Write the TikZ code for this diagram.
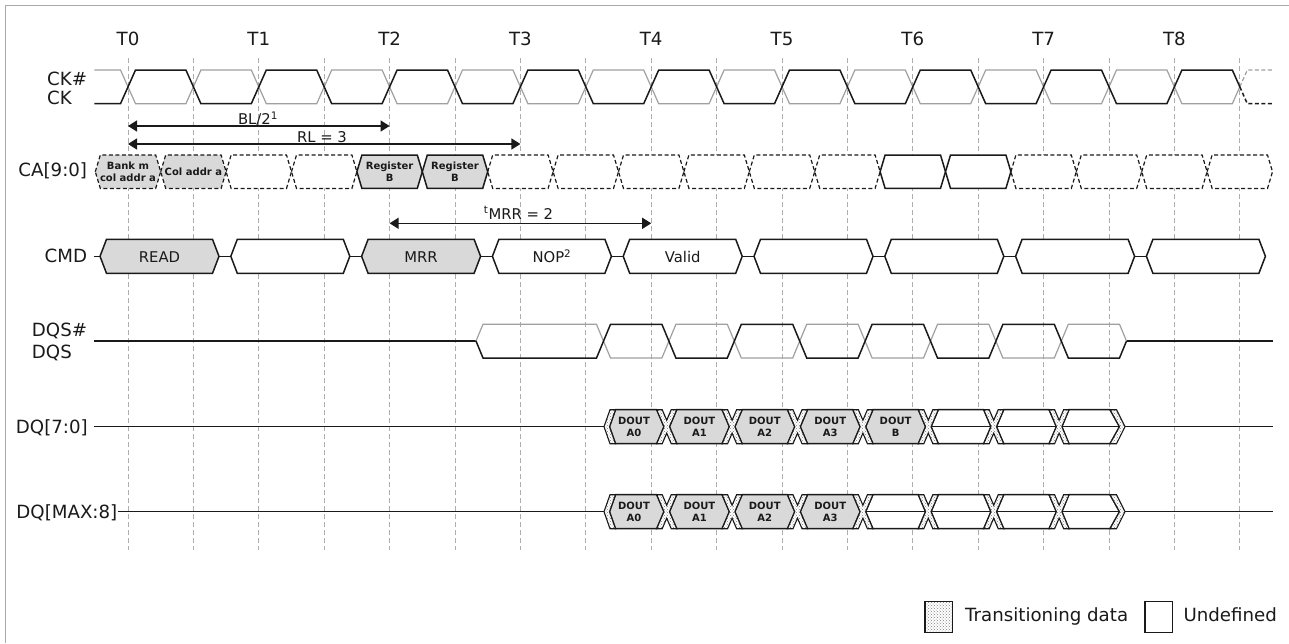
\documentclass[tikz,border=0pt]{standalone}
\usepackage{fontspec}
\setmainfont{DejaVu Sans}
\usetikzlibrary{patterns,arrows.meta}
\definecolor{cellgray}{HTML}{D9D9D9}
\definecolor{ink}{HTML}{1A1A1A}
\definecolor{clkgray}{HTML}{A0A0A0}
\definecolor{gridgray}{HTML}{ADADAD}
\definecolor{framegray}{HTML}{A8A8A8}
% CA bus cell: #1 index, #2 style
\newcommand\cacell[2]{%
  \pgfmathsetmacro\ba{95.3+65.4*#1}\pgfmathsetmacro\bb{\ba+65.4}%
  \draw[#2] (\ba,171.7) -- ({\ba+5},155) -- ({\bb-5},155) -- (\bb,171.7) -- ({\bb-5},188.4) -- ({\ba+5},188.4) -- cycle;}
% transition X: #1 centre x, #2 centre y
\newcommand\xshape[2]{%
  \draw[trans] ({#1-10},{#2-17}) -- ({#1-4.5},{#2-17}) -- (#1,{#2-6.5}) -- ({#1+4.5},{#2-17}) -- ({#1+10},{#2-17}) -- ({#1+2.75},#2) -- ({#1+10},{#2+17}) -- ({#1+4.5},{#2+17}) -- (#1,{#2+6.5}) -- ({#1-4.5},{#2+17}) -- ({#1-10},{#2+17}) -- ({#1-2.75},#2) -- cycle;}
\begin{document}
\begin{tikzpicture}[x=1pt,y=-1pt,
  wave/.style={line width=1.5pt, draw=ink},
  wavegray/.style={line width=1.2pt, draw=clkgray},
  gridline/.style={line width=0.9pt, draw=gridgray, dash pattern=on 5pt off 3pt},
  lbl/.style={font=\fontsize{18.2}{21}\selectfont, inner sep=0pt, text=ink},
  midlbl/.style={font=\fontsize{14.8}{17}\selectfont, inner sep=0pt, text=ink},
  tinylbl/.style={font=\fontsize{10}{12.4}\selectfont\bfseries, inner sep=0pt, align=center, text=ink},
  dashcell/.style={line width=1.2pt, draw=ink, dash pattern=on 4pt off 2.5pt},
  solidcell/.style={line width=1.5pt, draw=ink},
  cellline/.style={line width=1.5pt, draw=ink},
  trans/.style={line width=1.1pt, draw=ink, preaction={fill=white}, pattern=crosshatch dots, pattern color=black!50},
  dimline/.style={line width=1.4pt, draw=ink, {Triangle[length=9pt,width=11pt]}-{Triangle[length=9pt,width=11pt]}},
]
\useasboundingbox (0,0) rectangle (1289,643);
\fill[white] (0,0) rectangle (1289,643);
% frame
\draw[framegray, line width=1pt] (5,643) -- (5,5) -- (1289,5);

% grid lines
\foreach \k in {0,...,17} \draw[gridline] ({128+65.4*\k},58) -- ({128+65.4*\k},549.5);

% clock labels
\foreach \k in {0,...,8} \node[lbl, anchor=base] (T\k) at ({128+130.8*\k},45.7) {T\k};

% signal names
\node[lbl, anchor=base east] (ckn) at (87.3,85) {CK\#};
\node[lbl, anchor=base west] (ck) at (ckn.base west |- 0,104) {CK};
\node[lbl, anchor=base east] (ca) at (87.3,176.5) {CA[9:0]};
\node[lbl, anchor=base east] (cmd) at (87.3,262.7) {CMD};
\node[lbl, anchor=base east] (dqsn) at (87.3,336.7) {DQS\#};
\node[lbl, anchor=base west] (dqs) at (dqsn.base west |- 0,358.3) {DQS};
\node[lbl, anchor=base east] (dqlo) at (88,433.3) {DQ[7:0]};
\node[lbl, anchor=base east] (dqhi) at (117.5,518.3) {DQ[MAX:8]};

% CK# (gray)
\draw[wavegray] (94.3,70) \foreach \n in {0,...,7} { -- ({128+130.8*\n-7.5},70) -- ({128+130.8*\n+7.5},103.7) -- ({128+130.8*\n+57.9},103.7) -- ({128+130.8*\n+72.9},70) } -- (1166.9,70) -- (1181.9,103.7) -- (1232.3,103.7) -- (1239.8,86.85);
\draw[wavegray, dash pattern=on 4pt off 2.5pt] (1239.8,86.85) -- (1247.3,70) -- (1272,70);
% CK (black)
\draw[wave] (94.3,103.7) \foreach \n in {0,...,7} { -- ({128+130.8*\n-7.5},103.7) -- ({128+130.8*\n+7.5},70) -- ({128+130.8*\n+57.9},70) -- ({128+130.8*\n+72.9},103.7) } -- (1166.9,103.7) -- (1181.9,70) -- (1232.3,70) -- (1239.8,86.85);
\draw[wave, dash pattern=on 4pt off 2.5pt] (1239.8,86.85) -- (1247.3,103.7) -- (1272,103.7);

% timing dimensions
\coordinate (blA) at (128,126);
\coordinate (blB) at (389.6,126);
\coordinate (rlA) at (128,144);
\coordinate (rlB) at (520.4,144);
\coordinate (mrA) at (389.6,223.3);
\coordinate (mrB) at (651.2,223.3);
\draw[dimline] (blA) -- (blB);
\draw[dimline] (rlA) -- (rlB);
\draw[dimline] (mrA) -- (mrB);
\node[midlbl, anchor=base] (bl) at (258,124.5) {BL/2\textsuperscript{1}};
\node[midlbl, anchor=base] (rl) at (322,142.5) {RL = 3};
\node[midlbl, anchor=base] (tmrr) at (518.5,219) {\textsuperscript{t}MRR = 2};

% CA bus
\foreach \k in {2,3,6,7,8,9,10,11,14,15,16,17} {\cacell{\k}{dashcell, fill=white}}
\foreach \k in {0,1} {\cacell{\k}{dashcell, fill=cellgray}}
\foreach \k in {4,5} {\cacell{\k}{solidcell, fill=cellgray}}
\foreach \k in {12,13} {\cacell{\k}{solidcell, fill=white}}
\node[tinylbl] (ca0) at (128,171.7) {Bank m\\col addr a};
\node[tinylbl] (ca1) at (193.4,171.7) {Col addr a};
\node[tinylbl] (ca4) at (389.6,171.7) {Register\\B};
\node[tinylbl] (ca5) at (455,171.7) {Register\\B};

% CMD bus
\draw[wave] (94.3,256.3) -- (100,256.3);
\foreach \i/\f in {0/cellgray,1/white,2/cellgray,3/white,4/white,5/white,6/white,7/white,8/white} {
  \pgfmathsetmacro\a{100+130.8*\i}
  \draw[solidcell, fill=\f] (\a,256.3) -- ({\a+6.5},239.3) -- ({\a+112.5},239.3) -- ({\a+119},256.3) -- ({\a+112.5},273.3) -- ({\a+6.5},273.3) -- cycle;
}
\foreach \i in {0,...,7} \draw[wave] ({100+130.8*\i+119},256.3) -- ({100+130.8*\i+130.8},256.3);
\node[midlbl, anchor=base] (read) at (159.5,262.7) {READ};
\node[midlbl, anchor=base] (mrr) at (421.1,262.7) {MRR};
\node[midlbl, anchor=base] (nop) at (551.9,262.7) {NOP\textsuperscript{2}};
\node[midlbl, anchor=base] (valid) at (682.7,262.7) {Valid};

% DQS# / DQS
\draw[wave] (94.3,341) -- (476,341);
\draw[wavegray] (476,341) -- (483,324.3) \foreach \m in {0,...,3} { -- ({603.5+130.8*\m-7},324.3) -- ({603.5+130.8*\m+7},358) -- ({603.5+130.8*\m+58.4},358) -- ({603.5+130.8*\m+72.4},324.3) } -- (1119.5,324.3) -- (1126.5,341);
\draw[wave] (476,341) -- (483,358) \foreach \m in {0,...,3} { -- ({603.5+130.8*\m-7},358) -- ({603.5+130.8*\m+7},324.3) -- ({603.5+130.8*\m+58.4},324.3) -- ({603.5+130.8*\m+72.4},358) } -- (1119.5,358) -- (1126.5,341);
\draw[wave] (1126.5,341) -- (1272.7,341);

% DQ buses
\foreach \yy/\xs/\ng in {426.7/94.3/5, 511.7/118.3/4} {
  \draw[wave] (\xs,\yy) -- (604,\yy);
  \draw[wave] (1125,\yy) -- (1272.5,\yy);
  % first cell (always data)
  \draw[cellline, fill=cellgray] (615.5,\yy-17) -- (656.7,\yy-17) -- (663.95,\yy) -- (656.7,\yy+17) -- (615.5,\yy+17) -- (609.5,\yy) -- cycle;
  % middle cells
  \foreach \j in {1,...,6} {
    \pgfmathsetmacro\xa{666.7+65.4*(\j-1)}
    \pgfmathsetmacro\xb{\xa+65.4}
    \ifnum\j<\ng\relax
      \draw[cellline, fill=cellgray] ({\xa+10},\yy-17) -- ({\xb-10},\yy-17) -- ({\xb-2.75},\yy) -- ({\xb-10},\yy+17) -- ({\xa+10},\yy+17) -- ({\xa+2.75},\yy) -- cycle;
    \else
      \draw[cellline, fill=white] ({\xa+10},\yy-17) -- ({\xb-10},\yy-17) -- ({\xb-2.75},\yy) -- ({\xb-10},\yy+17) -- ({\xa+10},\yy+17) -- ({\xa+2.75},\yy) -- cycle;
      \draw[wave] ({\xa+2.75},\yy) -- ({\xb-2.75},\yy);
    \fi
  }
  % last cell (undefined)
  \draw[cellline, fill=white] (1068.8,\yy-17) -- (1110,\yy-17) -- (1119.5,\yy) -- (1110,\yy+17) -- (1068.8,\yy+17) -- (1061.85,\yy) -- cycle;
  \draw[wave] (1061.85,\yy) -- (1119.5,\yy);
  % transitions
  \draw[trans] (604,\yy) -- (610,\yy-17) -- (615.5,\yy-17) -- (609.5,\yy) -- (615.5,\yy+17) -- (610,\yy+17) -- cycle;
  \foreach \k in {0,...,6} {\xshape{666.7+65.4*\k}{\yy}}
  \draw[trans] (1110,\yy-17) -- (1116.5,\yy-17) -- (1125,\yy) -- (1116.5,\yy+17) -- (1110,\yy+17) -- (1119.5,\yy) -- cycle;
}
\node[tinylbl] (lo0) at (634,426.7) {DOUT\\A0};
\node[tinylbl] (lo1) at (699.4,426.7) {DOUT\\A1};
\node[tinylbl] (lo2) at (764.8,426.7) {DOUT\\A2};
\node[tinylbl] (lo3) at (830.2,426.7) {DOUT\\A3};
\node[tinylbl] (lo4) at (895.6,426.7) {DOUT\\B};
\node[tinylbl] (hi0) at (634,511.7) {DOUT\\A0};
\node[tinylbl] (hi1) at (699.4,511.7) {DOUT\\A1};
\node[tinylbl] (hi2) at (764.8,511.7) {DOUT\\A2};
\node[tinylbl] (hi3) at (830.2,511.7) {DOUT\\A3};

% legend
\node[trans, line width=1.4pt, minimum width=27.7pt, minimum height=31pt, inner sep=0pt] (legT) at (938.8,617.2) {};
\node[lbl, anchor=base west] (legTt) at (965,621.7) {Transitioning data};
\node[draw=ink, line width=1.4pt, fill=white, minimum width=27.7pt, minimum height=31pt, inner sep=0pt] (legU) at (1158.8,617.2) {};
\node[lbl, anchor=base west] (legUt) at (1183.3,621.7) {Undefined};
\end{tikzpicture}
\end{document}
